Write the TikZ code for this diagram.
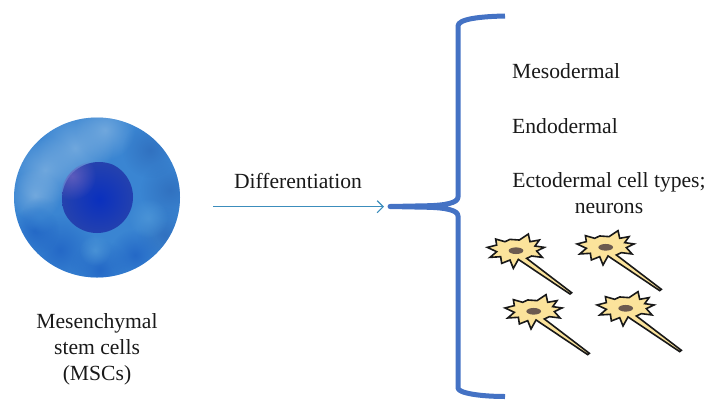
\documentclass[tikz,border=0pt]{standalone}
\usepackage{fontspec}
\setmainfont{Liberation Serif}
\usetikzlibrary{arrows.meta,fadings}
\definecolor{brace}{HTML}{4472C4}
\definecolor{arrowc}{HTML}{3C8DBC}
\definecolor{neuronf}{HTML}{FBE39B}
\definecolor{soma}{HTML}{6B5A50}
\definecolor{cellbase}{HTML}{3A85D2}
\definecolor{celllight}{HTML}{7DB0E0}
\definecolor{cellmid}{HTML}{4E97D8}
\definecolor{celldark}{HTML}{1F62C4}
\definecolor{cellrim}{HTML}{2F6DBC}
\definecolor{nucin}{HTML}{0A30BE}
\definecolor{nucout}{HTML}{2542AE}
\definecolor{nucrim}{HTML}{6A62C0}
\tikzfading[name=softblob,inner color=transparent!20,outer color=transparent!100]
\tikzset{
  lbl/.style={font=\fontsize{21.6}{26}\selectfont,inner sep=0pt,text=black!90},
  blob/.style={path fading=softblob,fit fading=true},
  neuron/.pic={
    \begin{scope}[scale=0.3333]
    \filldraw[fill=neuronf,draw=black!90,line width=1.6pt,line join=miter,miter limit=10]
      (-86,-10)--(-58,-17)--(-61,-35)--(-33,-27)--(-18,-34)--(10,-32)--(37,-50)--(42,-27)--(70,-32)--(57,-14)--(85,-10)--(62,1)--(79,20)--(47,16)--(32,23)
      --(167,126)--(162,130)--(7,26)--(-8,53)--(-18,28)--(-43,38)--(-46,18)--(-78,20)--(-58,3)--cycle;
    \fill[soma] (0,0) ellipse (22 and 10);
    \end{scope}
  }
}
\begin{document}
\begin{tikzpicture}[x=1pt,y=-1pt]
\useasboundingbox (0,0) rectangle (720,413);
% cell
\begin{scope}
  \path[clip] (97,197.5) ellipse (83 and 80);
  \fill[cellbase] (0,110) rectangle (190,290);
  \foreach \x/\y/\r/\c in {
     75/148/38/celllight, 45/170/34/celllight, 105/130/30/celllight,
     35/195/26/celllight, 170/190/30/cellrim, 150/150/28/cellrim,
     60/250/36/celldark, 100/270/30/celldark, 165/235/28/cellrim,
     135/255/26/celldark, 35/230/24/celldark, 40/215/18/cellbase,
     148/218/20/cellmid, 95/250/16/cellmid}
    {\fill[\c,blob] (\x,\y) circle (\r);}
\end{scope}
\begin{scope}
  \path[clip] (97,197) circle (36);
  \shade[inner color=nucin,outer color=nucout] (99,199) circle (37);
  \fill[nucrim,blob] (72,176) circle (24);
\end{scope}
\node[lbl] (msc1) at (97,328) [anchor=base] {Mesenchymal};
\node[lbl] (msc2) at (97,354) [anchor=base] {stem cells};
\node[lbl] (msc3) at (97,380) [anchor=base] {(MSCs)};
\node[lbl,anchor=base] (diff) at (298,188) {Differentiation};
% bracket
\coordinate (stem) at (390,206.5);
\coordinate (astart) at (213,206.7);
\coordinate (atip) at (384,206.7);
\draw[arrowc,line width=1.2pt,-{Straight Barb[length=6pt,width=12pt]}] (astart) -- (atip);
\draw[brace,line width=5pt,line cap=butt,line join=round]
  (505,16) .. controls (480,16.5) and (458,19) .. (458,26) -- (458,197)
  .. controls (458,203) and (445,205.5) .. (425,205.8) -- (stem) -- (425,207.2)
  .. controls (445,207.5) and (458,210) .. (458,216) -- (458,388)
  .. controls (458,393) and (480,396.5) .. (505,396.5);
\node[lbl,anchor=base west] (meso) at (512,78) {Mesodermal};
\node[lbl,anchor=base west] (endo) at (512,133) {Endodermal};
\node[lbl,anchor=base] (ecto) at (609,187) {Ectodermal cell types;};
\node[lbl,anchor=base] (neur) at (609,213) {neurons};
\pic at (516,250.7) {neuron};
\pic at (605.7,247.3) {neuron};
\pic at (533.7,311.3) {neuron};
\pic at (625.7,308.3) {neuron};
\end{tikzpicture}
\end{document}
